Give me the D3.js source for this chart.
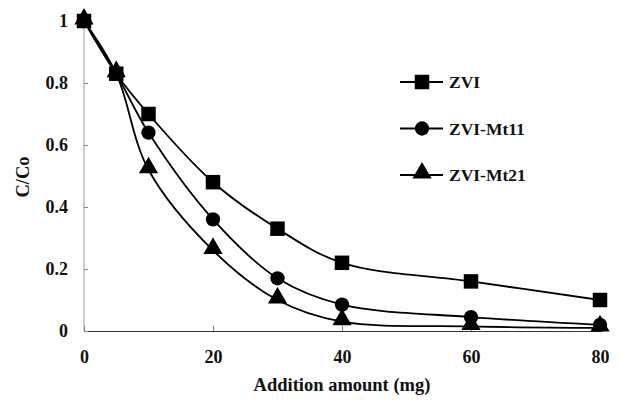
<!DOCTYPE html>
<html>
<head>
<meta charset="utf-8">
<script src="https://cdn.jsdelivr.net/npm/d3@7"></script>
<style>
  body { margin: 0; background: #fff; }
</style>
</head>
<body>
<div id="chart"></div>
<script>
// data
var amounts = [0, 5, 10, 20, 30, 40, 60, 80];
var seriesNames = ['ZVI', 'ZVI-Mt11', 'ZVI-Mt21'];
var zvi    = [1.00, 0.83, 0.70, 0.48, 0.33, 0.22, 0.16, 0.10];
var mt11   = [1.00, 0.83, 0.64, 0.36, 0.17, 0.085, 0.045, 0.02];
var mt21   = [1.00, 0.83, 0.52, 0.26, 0.10, 0.03, 0.015, 0.01];
var xTicks = [0, 20, 40, 60, 80];
var yTicks = [0, 0.2, 0.4, 0.6, 0.8, 1];

var width = 620, height = 405;
var margin = {left: 84, right: 20, top: 21, bottom: 74};
var font = "'Liberation Serif', 'Times New Roman', serif";

var svg = d3.select('#chart').append('svg')
  .attr('width', width)
  .attr('height', height);

var x = d3.scaleLinear().domain([0, 80]).range([margin.left, width - margin.right]);
var y = d3.scaleLinear().domain([0, 1]).range([height - margin.bottom, margin.top]);

function styleText(sel, size) {
  sel.style('font-family', font)
    .style('font-weight', 'bold')
    .style('font-size', size + 'px')
    .attr('fill', '#111');
}

// axes
var xAxis = svg.append('g')
  .attr('transform', 'translate(0,' + y(0) + ')')
  .call(d3.axisBottom(x).tickValues(xTicks).tickSize(-5).tickPadding(19).tickFormat(d3.format('d')));
xAxis.select('.domain').attr('stroke', '#333');
xAxis.selectAll('.tick line').attr('stroke', '#777');
styleText(xAxis.selectAll('.tick text'), 18);

var yAxis = svg.append('g')
  .attr('transform', 'translate(' + x(0) + ',0)')
  .call(d3.axisLeft(y).tickValues(yTicks).tickSize(-4).tickPadding(16)
    .tickFormat(function (d) { return d === 0 || d === 1 ? d : d3.format('.1f')(d); }));
yAxis.select('.domain').attr('stroke', '#999').attr('d', 'M0,' + y(0) + 'V' + y(1));
yAxis.selectAll('.tick line').attr('stroke', '#888');
styleText(yAxis.selectAll('.tick text'), 18);

styleText(svg.append('text')
  .attr('x', 342)
  .attr('y', 391)
  .attr('text-anchor', 'middle')
  .text('Addition amount (mg)'), 18.5);

styleText(svg.append('text')
  .attr('transform', 'translate(29,177) rotate(-90)')
  .attr('text-anchor', 'middle')
  .text('C/Co'), 18.5);

// lines (drawn back to front so squares end up on top)
var allData = [zvi, mt11, mt21];
var symbols = [d3.symbolSquare, d3.symbolCircle, d3.symbolTriangle];
var symbolSizes = [210, 160, 160];
var order = [2, 1, 0];

var line = d3.line()
  .x(function (d, i) { return x(amounts[i]); })
  .y(function (d) { return y(d); })
  .curve(d3.curveCatmullRom.alpha(0.5));

order.forEach(function (k) {
  svg.append('path')
    .datum(allData[k])
    .attr('class', 'series')
    .attr('d', line)
    .attr('fill', 'none')
    .attr('stroke', '#000')
    .attr('stroke-width', 1.8);
});

order.forEach(function (k) {
  svg.selectAll('.pt' + k)
    .data(allData[k])
    .enter()
    .append('path')
    .attr('class', 'pt' + k)
    .attr('transform', function (d, i) {
      var dy = k === 2 ? -2 : 0;
      return 'translate(' + x(amounts[i]) + ',' + (y(d) + dy) + ')';
    })
    .attr('d', d3.symbol().type(symbols[k]).size(symbolSizes[k]))
    .attr('fill', '#000');
});

// legend
var legend = svg.selectAll('.legend')
  .data(seriesNames)
  .enter()
  .append('g')
  .attr('class', 'legend')
  .attr('transform', function (d, i) { return 'translate(400,' + (82 + i * 46.5) + ')'; });

legend.append('line')
  .attr('x1', 0).attr('x2', 43)
  .attr('y1', 0).attr('y2', 0)
  .attr('stroke', '#000')
  .attr('stroke-width', 1.8);

legend.append('path')
  .attr('transform', function (d, i) { return 'translate(22,' + (i === 2 ? -2 : 0) + ')'; })
  .attr('d', function (d, i) { return d3.symbol().type(symbols[i]).size(symbolSizes[i])(); })
  .attr('fill', '#000');

styleText(legend.append('text')
  .attr('x', 49)
  .attr('y', 6)
  .text(function (d) { return d; }), 17.5);
</script>
</body>
</html>
